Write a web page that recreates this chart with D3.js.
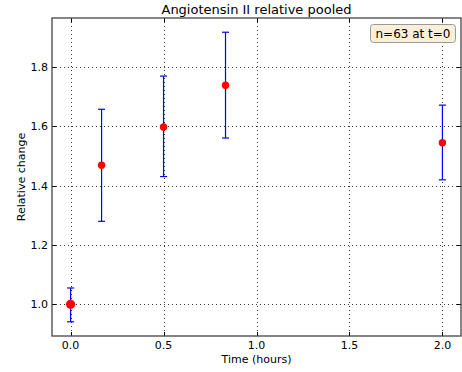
<!DOCTYPE html>
<html>
<head>
<meta charset="utf-8">
<script src="https://cdn.jsdelivr.net/npm/d3@7"></script>
<style>
  body { margin: 0; background: #fff; }
  text { font-family: "DejaVu Sans", sans-serif; }
</style>
</head>
<body>
<div id="chart"></div>
<script>
// time points (hours) and pooled relative change
var times = [0, 1 / 6, 0.5, 5 / 6, 2.0];
var means = [1.0, 1.469, 1.598, 1.739, 1.545];
var lower = [0.941, 1.280, 1.431, 1.561, 1.420];
var upper = [1.055, 1.658, 1.770, 1.918, 1.672];
var xTicks = [0.0, 0.5, 1.0, 1.5, 2.0];
var yTicks = [1.0, 1.2, 1.4, 1.6, 1.8];
var legendText = "n=63 at t=0";

var width = 462, height = 372;
var margin = {left: 52, top: 18, right: 1, bottom: 36};

var svg = d3.select("#chart")
    .append("svg")
    .attr("width", width)
    .attr("height", height);

var x = d3.scaleLinear().domain([-0.1, 2.1])
    .range([margin.left, width - margin.right]);
var y = d3.scaleLinear().domain([0.893, 1.966])
    .range([height - margin.bottom, margin.top]);

var x0 = x.range()[0], x1 = x.range()[1];
var y0 = y.range()[0], y1 = y.range()[1];

// grid
var grid = svg.append("g").attr("stroke", "#000").attr("stroke-width", 0.8)
    .attr("stroke-dasharray", "1,3");
grid.selectAll(".vg").data(xTicks).enter().append("line")
    .attr("x1", function(d) { return Math.round(x(d)) + 0.5; })
    .attr("x2", function(d) { return Math.round(x(d)) + 0.5; })
    .attr("y1", y1).attr("y2", y0);
grid.selectAll(".hg").data(yTicks).enter().append("line")
    .attr("y1", function(d) { return Math.round(y(d)) + 0.5; })
    .attr("y2", function(d) { return Math.round(y(d)) + 0.5; })
    .attr("x1", x0).attr("x2", x1);

// inward ticks on all sides
var ticks = svg.append("g").attr("stroke", "#000").attr("stroke-width", 1);
xTicks.forEach(function(d) {
    var px = Math.round(x(d)) + 0.5;
    ticks.append("line").attr("x1", px).attr("x2", px).attr("y1", y0).attr("y2", y0 - 4);
    ticks.append("line").attr("x1", px).attr("x2", px).attr("y1", y1).attr("y2", y1 + 4);
});
yTicks.forEach(function(d) {
    var py = Math.round(y(d)) + 0.5;
    ticks.append("line").attr("y1", py).attr("y2", py).attr("x1", x0).attr("x2", x0 + 4);
    ticks.append("line").attr("y1", py).attr("y2", py).attr("x1", x1).attr("x2", x1 - 4);
});

// error bars
var eb = svg.append("g").attr("stroke", "#0000ff").attr("stroke-width", 1.2);
eb.selectAll(".bar").data(times).enter().append("line")
    .attr("x1", function(d) { return x(d); })
    .attr("x2", function(d) { return x(d); })
    .attr("y1", function(d, i) { return y(upper[i]); })
    .attr("y2", function(d, i) { return y(lower[i]); });
eb.selectAll(".capt").data(times).enter().append("line")
    .attr("x1", function(d) { return x(d) - 3.5; })
    .attr("x2", function(d) { return x(d) + 3.5; })
    .attr("y1", function(d, i) { return y(upper[i]); })
    .attr("y2", function(d, i) { return y(upper[i]); });
eb.selectAll(".capb").data(times).enter().append("line")
    .attr("x1", function(d) { return x(d) - 3.5; })
    .attr("x2", function(d) { return x(d) + 3.5; })
    .attr("y1", function(d, i) { return y(lower[i]); })
    .attr("y2", function(d, i) { return y(lower[i]); });

// points
svg.selectAll(".pt").data(times).enter().append("circle")
    .attr("cx", function(d) { return x(d); })
    .attr("cy", function(d, i) { return y(means[i]); })
    .attr("r", function(d, i) { return i === 0 ? 4.6 : 3.7; })
    .attr("fill", "#ff0000");

// frame
svg.append("rect")
    .attr("x", x0).attr("y", y1)
    .attr("width", x1 - x0).attr("height", y0 - y1)
    .attr("fill", "none").attr("stroke", "#444").attr("stroke-width", 1.3);

// tick labels
svg.selectAll(".xl").data(xTicks).enter().append("text")
    .attr("x", function(d) { return x(d); })
    .attr("y", y0 + 13)
    .attr("text-anchor", "middle")
    .attr("font-size", 11)
    .text(function(d) { return d.toFixed(1); });
svg.selectAll(".yl").data(yTicks).enter().append("text")
    .attr("x", x0 - 4)
    .attr("y", function(d) { return y(d); })
    .attr("dy", "0.35em")
    .attr("text-anchor", "end")
    .attr("font-size", 11)
    .text(function(d) { return d.toFixed(1); });

// titles
svg.append("text")
    .attr("x", (x0 + x1) / 2).attr("y", 14)
    .attr("text-anchor", "middle").attr("font-size", 13)
    .text("Angiotensin II relative pooled");
svg.append("text")
    .attr("x", (x0 + x1) / 2).attr("y", 363)
    .attr("text-anchor", "middle").attr("font-size", 11)
    .text("Time (hours)");
svg.append("text")
    .attr("transform", "translate(25," + ((y0 + y1) / 2) + ") rotate(-90)")
    .attr("text-anchor", "middle").attr("font-size", 11)
    .text("Relative change");

// annotation box
var lg = svg.append("g");
lg.append("rect")
    .attr("x", 370.5).attr("y", 24.5)
    .attr("width", 85).attr("height", 18)
    .attr("rx", 3)
    .attr("fill", "#fbefd9").attr("stroke", "#999").attr("stroke-width", 1);
lg.append("text")
    .attr("x", 413).attr("y", 38)
    .attr("text-anchor", "middle").attr("font-size", 12)
    .text(legendText);
</script>
</body>
</html>
